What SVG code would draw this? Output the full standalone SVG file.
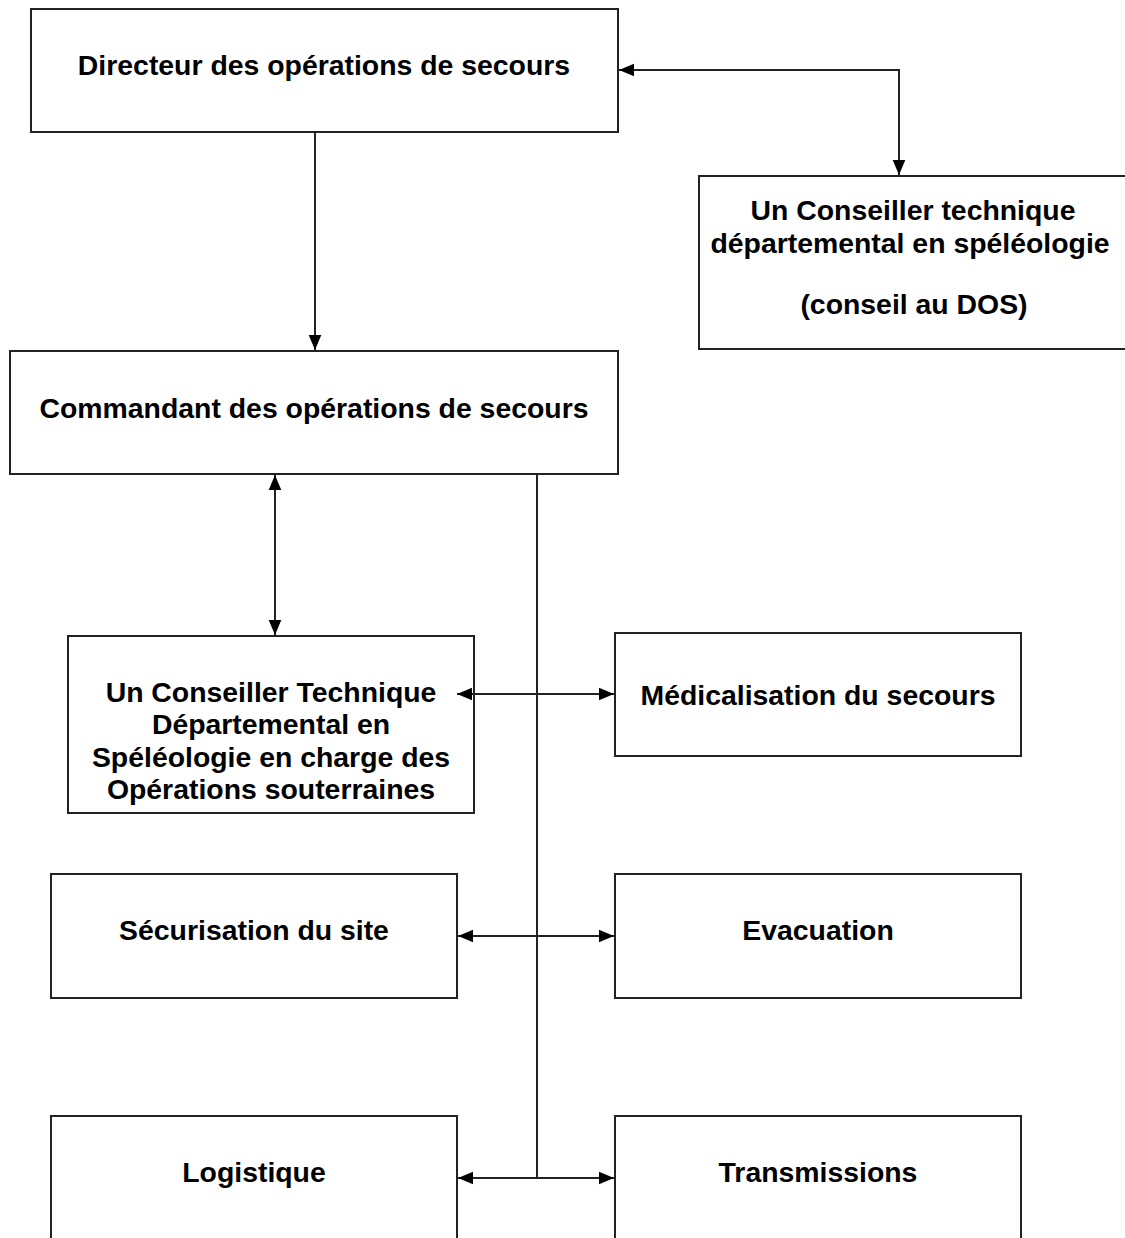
<svg xmlns="http://www.w3.org/2000/svg" width="1125" height="1238" viewBox="0 0 1125 1238">
<style>
.box{fill:#fff;stroke:#222;stroke-width:2}
.t{font-family:"Liberation Sans",Arial,sans-serif;font-weight:bold;font-size:28.4px;fill:#000;text-anchor:middle}
.c{fill:none;stroke:#222;stroke-width:2}
</style>
<defs>
<marker id="a" viewBox="0 0 10 10" refX="10" refY="5" markerWidth="7.5" markerHeight="7.5" orient="auto-start-reverse" markerUnits="strokeWidth">
<path d="M0,0.8 L10,5 L0,9.2 z" fill="#000"/>
</marker>
</defs>
<rect width="1125" height="1238" fill="#fff"/>
<g id="dos"><rect class="box" x="31" y="9" width="587" height="123"/><text class="t" x="324" y="75">Directeur des opérations de secours</text></g>
<g id="ctd"><rect class="box" x="699" y="176" width="430" height="173"/><text class="t" x="913" y="220">Un Conseiller technique</text><text class="t" x="910" y="253">départemental en spéléologie</text><text class="t" x="914" y="314">(conseil au DOS)</text></g>
<g id="cos"><rect class="box" x="10" y="351" width="608" height="123"/><text class="t" x="314" y="418">Commandant des opérations de secours</text></g>
<g id="cts"><rect class="box" x="68" y="636" width="406" height="177"/><text class="t" x="271" y="702">Un Conseiller Technique</text><text class="t" x="271" y="734">Départemental en</text><text class="t" x="271" y="767">Spéléologie en charge des</text><text class="t" x="271" y="799">Opérations souterraines</text></g>
<g id="med"><rect class="box" x="615" y="633" width="406" height="123"/><text class="t" x="818" y="705">Médicalisation du secours</text></g>
<g id="sec"><rect class="box" x="51" y="874" width="406" height="124"/><text class="t" x="254" y="940">Sécurisation du site</text></g>
<g id="eva"><rect class="box" x="615" y="874" width="406" height="124"/><text class="t" x="818" y="940">Evacuation</text></g>
<g id="log"><rect class="box" x="51" y="1116" width="406" height="130"/><text class="t" x="254" y="1182">Logistique</text></g>
<g id="tra"><rect class="box" x="615" y="1116" width="406" height="130"/><text class="t" x="818" y="1182">Transmissions</text></g>
<g id="connectors">
<path class="c" d="M899,175 V70 H619" marker-start="url(#a)" marker-end="url(#a)"/>
<path class="c" d="M315,133 V350" marker-end="url(#a)"/>
<path class="c" d="M275,475 V635" marker-start="url(#a)" marker-end="url(#a)"/>
<path class="c" d="M537,475 V1177"/>
<path class="c" d="M457,694 H614" marker-start="url(#a)" marker-end="url(#a)"/>
<path class="c" d="M458,936 H614" marker-start="url(#a)" marker-end="url(#a)"/>
<path class="c" d="M458,1178 H614" marker-start="url(#a)" marker-end="url(#a)"/>
</g>
</svg>
